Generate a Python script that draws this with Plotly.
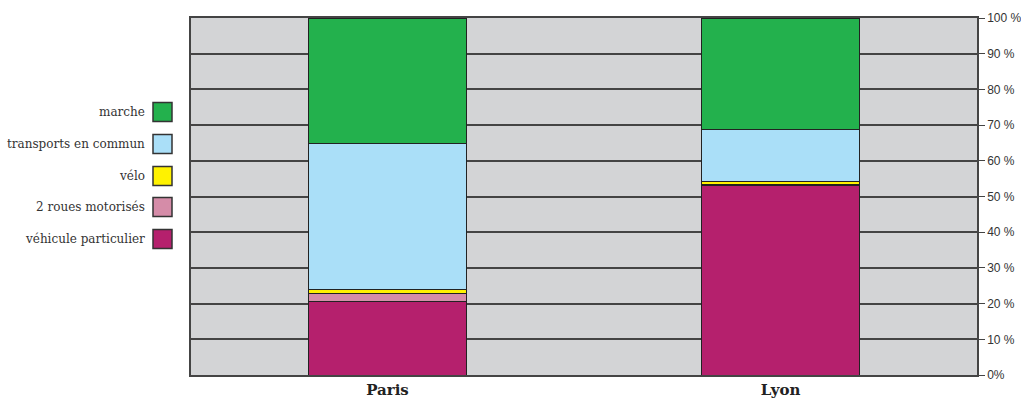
import plotly.graph_objects as go

cities = ["Paris", "Lyon"]
modes = ["véhicule particulier", "2 roues motorisés", "vélo", "transports en commun", "marche"]
colors = ["#b5206d", "#d58ca8", "#fff200", "#aadff8", "#23b14d"]
vehicule = [20.7, 53.0]
deux_roues = [2.2, 0.3]
velo = [1.1, 1.0]
transports = [40.9, 14.6]
marche = [35.1, 31.1]
tick_vals = [0, 10, 20, 30, 40, 50, 60, 70, 80, 90, 100]
tick_text = ["0%", "10 %", "20 %", "30 %", "40 %", "50 %", "60 %", "70 %", "80 %", "90 %", "100 %"]

series = [vehicule, deux_roues, velo, transports, marche]

fig = go.Figure()
for name, vals, col in zip(modes, series, colors):
    fig.add_trace(go.Bar(
        x=cities, y=vals, name=name, marker=dict(color=col, line=dict(color="#222222", width=1)),
        width=0.4, showlegend=False,
    ))

# manual legend (text right-aligned, box on the right)
leg_y = [239, 207, 176, 144, 112]
for name, col, yy in zip(modes, colors, leg_y):
    fig.add_annotation(xref="paper", yref="paper", x=(147 - 191) / 786, y=(375 - yy) / 357,
                       text=name, showarrow=False, xanchor="right", yanchor="middle",
                       font=dict(family="DejaVu Serif", size=12, color="#333333"))
    fig.add_shape(type="rect", xref="paper", yref="paper",
                  x0=(153 - 191) / 786, x1=(172 - 191) / 786,
                  y0=(375 - yy - 9.5) / 357, y1=(375 - yy + 9.5) / 357,
                  fillcolor=col, line=dict(color="#333333", width=1.5))

fig.update_layout(
    barmode="stack",
    width=1021, height=398,
    margin=dict(l=191, r=44, t=18, b=23),
    paper_bgcolor="white",
    plot_bgcolor="#d3d4d6",
    xaxis=dict(range=[-0.5, 1.5], showgrid=False, showline=True, linecolor="#444444", linewidth=1.5,
               mirror=True, ticks="", automargin=False,
               tickfont=dict(family="DejaVu Serif", size=15, color="#222222", weight="bold")),
    yaxis=dict(range=[0, 100], side="right", tickvals=tick_vals, ticktext=tick_text,
               showgrid=True, gridcolor="#444444", gridwidth=1.5, ticks="outside", ticklen=6,
               tickcolor="#444444", showline=True, linecolor="#444444", linewidth=1.5, mirror=True,
               zeroline=False, automargin=False,
               tickfont=dict(family="Liberation Sans", size=12, color="#333333")),
)
fig.write_html("out.html")
